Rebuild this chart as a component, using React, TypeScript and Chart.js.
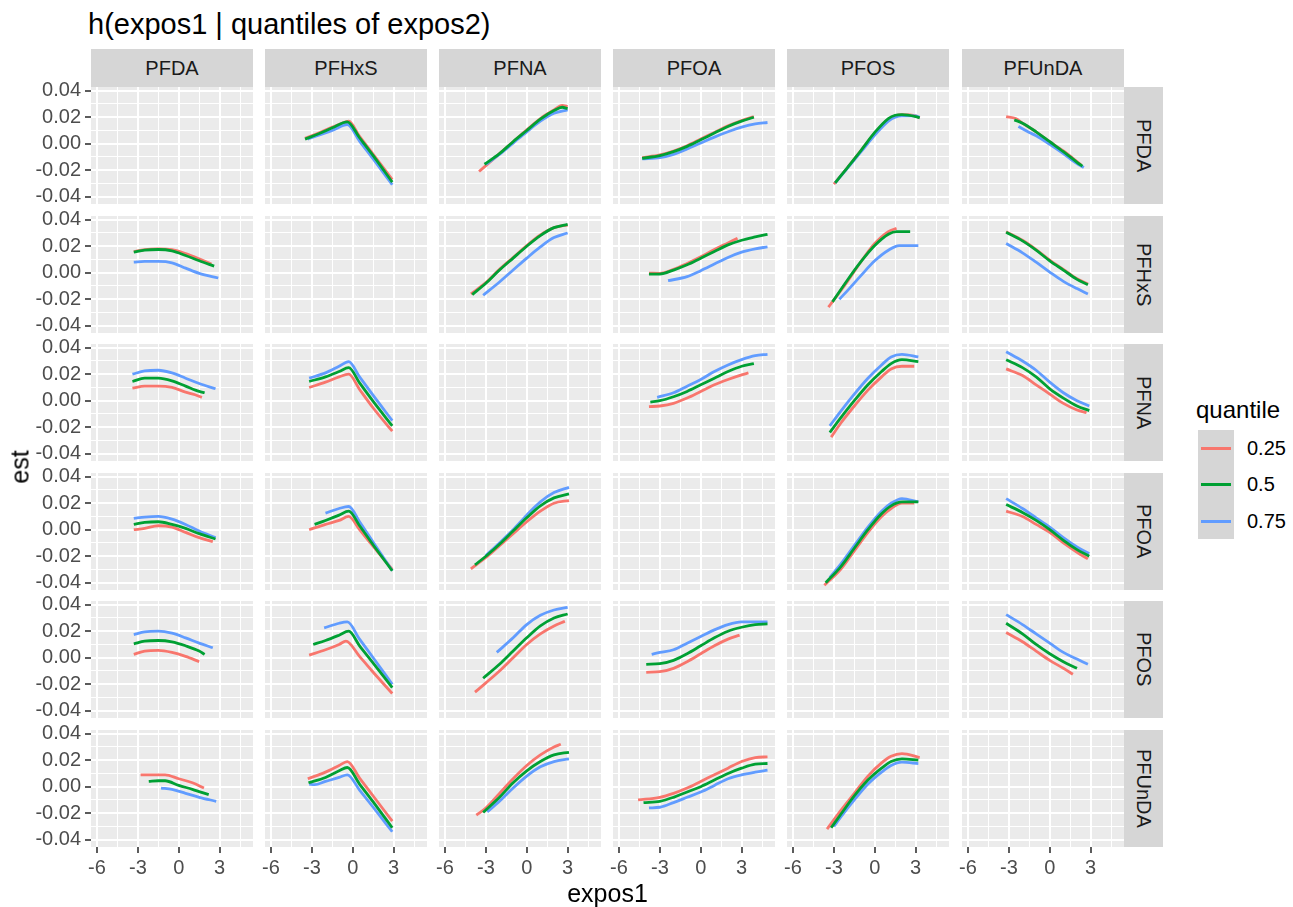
import React, { useEffect, useRef } from 'react';
import { Chart, registerables } from 'chart.js';

Chart.register(...registerables);

// ---------- categories, labels ----------
const exposures = ['PFDA', 'PFHxS', 'PFNA', 'PFOA', 'PFOS', 'PFUnDA'];
const quantileLabels = ['0.25', '0.5', '0.75'];
const quantileColors = ['#F8766D', '#00A033', '#619CFF'];
const xGridBreaks = [-6, -4.5, -3, -1.5, 0, 1.5, 3, 4.5];
const xMajorTicks = [-6, -3, 0, 3];
const yGridBreaks = [-0.04, -0.03, -0.02, -0.01, 0, 0.01, 0.02, 0.03, 0.04];
const yMajorTicks = [-0.04, -0.02, 0, 0.02, 0.04];
const xLimits = [-6.44, 5.45];
const yLimits = [-0.0455, 0.0428];
const titleText = 'h(expos1 | quantiles of expos2)';
const xTitle = 'expos1';
const yTitle = 'est';
const legendTitle = 'quantile';

// ---------- series values: row (expos2) _ column (expos1) _ quantile ----------
// row PFDA
const PFDA_PFHxS_25 = [[-3.5, 0.004], [-2.5, 0.008], [-1.5, 0.0125], [-0.5, 0.0165], [-0.3, 0.017], [0.5, 0.0055], [1.5, -0.008], [2.9, -0.027]];
const PFDA_PFHxS_50 = [[-3.5, 0.0035], [-2.5, 0.0075], [-1.5, 0.012], [-0.4, 0.0165], [0.5, 0.0045], [1.5, -0.009], [2.9, -0.029]];
const PFDA_PFHxS_75 = [[-3.3, 0.0035], [-2.5, 0.0065], [-1.5, 0.01], [-0.4, 0.0145], [0.5, 0.002], [1.5, -0.0115], [2.9, -0.031]];
const PFDA_PFNA_25 = [[-3.5, -0.021], [-3, -0.0165], [-2, -0.0075], [-1, 0.0015], [0, 0.0105], [1, 0.019], [2, 0.0255], [2.6, 0.029], [3, 0.028]];
const PFDA_PFNA_50 = [[-3.1, -0.0155], [-2, -0.0075], [-1, 0.0015], [0, 0.01], [1, 0.0185], [2, 0.025], [2.6, 0.0275], [3, 0.0265]];
const PFDA_PFNA_75 = [[-3, -0.0155], [-2, -0.008], [-1, 0.0005], [0, 0.009], [1, 0.017], [2, 0.023], [3, 0.0255]];
const PFDA_PFOA_25 = [[-4.3, -0.0105], [-3, -0.0085], [-2, -0.0055], [-1, -0.0015], [0, 0.0035], [1, 0.0085], [2, 0.0135], [3, 0.0175], [3.9, 0.0205]];
const PFDA_PFOA_50 = [[-4.3, -0.011], [-3, -0.009], [-2, -0.006], [-1, -0.002], [0, 0.003], [1, 0.008], [2, 0.013], [3, 0.017], [3.9, 0.02]];
const PFDA_PFOA_75 = [[-4.3, -0.0115], [-3, -0.0105], [-2, -0.008], [-1, -0.004], [0, 0.0005], [1, 0.005], [2, 0.009], [3, 0.0125], [4, 0.015], [4.9, 0.016]];
const PFDA_PFOS_25 = [[-3, -0.0305], [-2, -0.018], [-1, -0.005], [0, 0.008], [1, 0.0185], [1.5, 0.021], [2, 0.022], [3, 0.021], [3.3, 0.0195]];
const PFDA_PFOS_50 = [[-2.9, -0.0295], [-2, -0.018], [-1, -0.005], [0, 0.0085], [1, 0.019], [1.5, 0.0215], [2, 0.022], [3, 0.0205], [3.3, 0.0195]];
const PFDA_PFOS_75 = [[-2.9, -0.0295], [-2, -0.0185], [-1, -0.006], [0, 0.0065], [1, 0.017], [1.5, 0.02], [2, 0.021], [3, 0.021], [3.3, 0.02]];
const PFDA_PFUnDA_25 = [[-3.2, 0.0205], [-2.5, 0.019], [-2, 0.0155], [-1, 0.009], [0, 0.0015], [1, -0.0055], [2, -0.0135], [2.3, -0.016]];
const PFDA_PFUnDA_50 = [[-2.6, 0.018], [-2, 0.0155], [-1, 0.009], [0, 0.0015], [1, -0.006], [2, -0.014], [2.4, -0.017]];
const PFDA_PFUnDA_75 = [[-2.3, 0.013], [-1.5, 0.0085], [-1, 0.006], [0, -0.0005], [1, -0.0075], [2, -0.015], [2.5, -0.018]];
// row PFHxS
const PFHxS_PFDA_25 = [[-3.3, 0.016], [-2.5, 0.0175], [-1.5, 0.018], [-0.5, 0.0175], [0.5, 0.0145], [1.5, 0.0105], [2.4, 0.0065]];
const PFHxS_PFDA_50 = [[-3.3, 0.0155], [-2.5, 0.017], [-1.5, 0.0175], [-0.5, 0.0165], [0.5, 0.013], [1.5, 0.009], [2.6, 0.005]];
const PFHxS_PFDA_75 = [[-3.3, 0.008], [-2.5, 0.0085], [-1.5, 0.0085], [-0.5, 0.0075], [0.5, 0.0035], [1.5, -0.0005], [2.9, -0.004]];
const PFHxS_PFNA_25 = [[-4.1, -0.016], [-3, -0.0075], [-2, 0.0025], [-1, 0.0115], [0, 0.0205], [1, 0.0285], [2, 0.034], [3, 0.036]];
const PFHxS_PFNA_50 = [[-4.0, -0.0165], [-3, -0.008], [-2, 0.002], [-1, 0.011], [0, 0.02], [1, 0.028], [2, 0.034], [3, 0.0365]];
const PFHxS_PFNA_75 = [[-3.2, -0.017], [-2, -0.007], [-1, 0.002], [0, 0.011], [1, 0.0195], [2, 0.0265], [3, 0.03]];
const PFHxS_PFOA_25 = [[-3.8, -0.0003], [-3, -0.0005], [-2, 0.0025], [-1, 0.007], [0, 0.012], [1, 0.0175], [2, 0.0225], [2.7, 0.026]];
const PFHxS_PFOA_50 = [[-3.8, -0.001], [-3, -0.001], [-2, 0.002], [-1, 0.006], [0, 0.011], [1, 0.016], [2, 0.021], [3, 0.0245], [4, 0.027], [4.9, 0.029]];
const PFHxS_PFOA_75 = [[-2.4, -0.006], [-1, -0.003], [0, 0.0015], [1, 0.0065], [2, 0.0115], [3, 0.0155], [4, 0.018], [4.9, 0.0195]];
const PFHxS_PFOS_25 = [[-3.4, -0.026], [-3, -0.0205], [-2, -0.0065], [-1, 0.0085], [0, 0.022], [1, 0.031], [1.6, 0.0335]];
const PFHxS_PFOS_50 = [[-3.1, -0.022], [-2, -0.0055], [-1, 0.0085], [0, 0.0205], [1, 0.029], [1.6, 0.031], [2.6, 0.031]];
const PFHxS_PFOS_75 = [[-2.6, -0.02], [-2, -0.0135], [-1, -0.002], [0, 0.009], [1, 0.017], [1.8, 0.0205], [3.2, 0.0205]];
const PFHxS_PFUnDA_25 = [[-3.2, 0.031], [-2, 0.0245], [-1, 0.0175], [0, 0.0095], [1, 0.0025], [2, -0.0045], [2.8, -0.0085]];
const PFHxS_PFUnDA_50 = [[-3.2, 0.0305], [-2, 0.024], [-1, 0.017], [0, 0.009], [1, 0.002], [2, -0.005], [2.8, -0.009]];
const PFHxS_PFUnDA_75 = [[-3.2, 0.022], [-2, 0.015], [-1, 0.008], [0, 0.0005], [1, -0.0065], [2, -0.012], [2.8, -0.016]];
// row PFNA
const PFNA_PFDA_25 = [[-3.4, 0.0095], [-2.5, 0.011], [-1.5, 0.011], [-0.5, 0.01], [0.5, 0.0065], [1.2, 0.0045], [1.7, 0.0025]];
const PFNA_PFDA_50 = [[-3.4, 0.0145], [-2.5, 0.017], [-1.5, 0.017], [-0.5, 0.015], [0.5, 0.011], [1.5, 0.007], [1.9, 0.006]];
const PFNA_PFDA_75 = [[-3.4, 0.02], [-2.5, 0.0225], [-1.5, 0.023], [-0.5, 0.021], [0.5, 0.017], [1.5, 0.013], [2.7, 0.009]];
const PFNA_PFHxS_25 = [[-3.2, 0.01], [-2, 0.014], [-1, 0.018], [-0.3, 0.02], [0.5, 0.0085], [1.5, -0.0055], [2.9, -0.023]];
const PFNA_PFHxS_50 = [[-3.2, 0.0145], [-2, 0.018], [-1, 0.022], [-0.3, 0.025], [0.5, 0.0135], [1.5, -0.0005], [2.9, -0.019]];
const PFNA_PFHxS_75 = [[-3.2, 0.017], [-2, 0.021], [-1, 0.026], [-0.3, 0.0295], [0.5, 0.018], [1.5, 0.004], [2.9, -0.015]];
const PFNA_PFOA_25 = [[-3.8, -0.0045], [-3, -0.004], [-2, -0.002], [-1, 0.002], [0, 0.007], [1, 0.012], [2, 0.016], [3, 0.0195], [3.5, 0.021]];
const PFNA_PFOA_50 = [[-3.7, -0.001], [-3, 0.0], [-2, 0.003], [-1, 0.007], [0, 0.012], [1, 0.017], [2, 0.022], [3, 0.026], [3.9, 0.028]];
const PFNA_PFOA_75 = [[-3.2, 0.0025], [-2, 0.006], [-1, 0.011], [0, 0.016], [1, 0.022], [2, 0.027], [3, 0.031], [4, 0.034], [4.9, 0.035]];
const PFNA_PFOS_25 = [[-3.2, -0.0275], [-2.5, -0.017], [-1.5, -0.004], [-0.5, 0.008], [0.5, 0.018], [1.2, 0.024], [2, 0.026], [2.9, 0.026]];
const PFNA_PFOS_50 = [[-3.3, -0.024], [-2.5, -0.013], [-1.5, 0.0], [-0.5, 0.012], [0.5, 0.022], [1.2, 0.028], [2, 0.031], [3.2, 0.0295]];
const PFNA_PFOS_75 = [[-3.3, -0.019], [-2.5, -0.008], [-1.5, 0.005], [-0.5, 0.017], [0.5, 0.027], [1.2, 0.033], [2, 0.035], [3.2, 0.033]];
const PFNA_PFUnDA_25 = [[-3.2, 0.024], [-2, 0.019], [-1, 0.012], [0, 0.005], [1, -0.002], [2, -0.007], [2.7, -0.009]];
const PFNA_PFUnDA_50 = [[-3.2, 0.031], [-2, 0.025], [-1, 0.018], [0, 0.009], [1, 0.002], [2, -0.004], [2.9, -0.0075]];
const PFNA_PFUnDA_75 = [[-3.2, 0.037], [-2, 0.03], [-1, 0.023], [0, 0.014], [1, 0.006], [2, 0.0], [2.9, -0.004]];
// row PFOA
const PFOA_PFDA_25 = [[-3.3, 0.0], [-2.5, 0.001], [-1.5, 0.003], [-0.5, 0.002], [0.5, -0.002], [1.5, -0.006], [2.5, -0.009]];
const PFOA_PFDA_50 = [[-3.3, 0.004], [-2.5, 0.0055], [-1.5, 0.006], [-0.5, 0.004], [0.5, 0.001], [1.5, -0.003], [2.7, -0.007]];
const PFOA_PFDA_75 = [[-3.3, 0.0085], [-2.5, 0.0095], [-1.5, 0.01], [-0.5, 0.008], [0.5, 0.004], [1.5, -0.001], [2.7, -0.006]];
const PFOA_PFHxS_25 = [[-3.2, 0.0], [-2, 0.004], [-1, 0.007], [-0.3, 0.01], [0.5, 0.0], [1.5, -0.0125], [2.9, -0.03]];
const PFOA_PFHxS_50 = [[-2.8, 0.004], [-2, 0.007], [-1, 0.011], [-0.3, 0.014], [0.5, 0.003], [1.5, -0.0115], [2.9, -0.031]];
const PFOA_PFHxS_75 = [[-2, 0.0125], [-1, 0.016], [-0.3, 0.0175], [0.5, 0.006], [1.5, -0.0095], [2.9, -0.031]];
const PFOA_PFNA_25 = [[-4.1, -0.0295], [-3, -0.021], [-2, -0.012], [-1, -0.003], [0, 0.006], [1, 0.014], [2, 0.02], [3.1, 0.022]];
const PFOA_PFNA_50 = [[-3.8, -0.0265], [-3, -0.02], [-2, -0.011], [-1, -0.001], [0, 0.009], [1, 0.018], [2, 0.024], [3.1, 0.027]];
const PFOA_PFNA_75 = [[-3, -0.0195], [-2, -0.01], [-1, 0.0], [0, 0.011], [1, 0.021], [2, 0.028], [3.1, 0.032]];
const PFOA_PFOS_25 = [[-3.7, -0.042], [-2.5, -0.03], [-1.5, -0.016], [-0.5, -0.002], [0.5, 0.01], [1.2, 0.016], [2, 0.02], [2.9, 0.02]];
const PFOA_PFOS_50 = [[-3.6, -0.04], [-2.5, -0.028], [-1.5, -0.014], [-0.5, 0.0], [0.5, 0.012], [1.2, 0.018], [2, 0.021], [3.2, 0.021]];
const PFOA_PFOS_75 = [[-3.3, -0.036], [-2.5, -0.026], [-1.5, -0.012], [-0.5, 0.002], [0.5, 0.014], [1.2, 0.02], [2, 0.0235], [3.2, 0.021]];
const PFOA_PFUnDA_25 = [[-3.2, 0.014], [-2, 0.01], [-1, 0.004], [0, -0.002], [1, -0.01], [2, -0.017], [2.8, -0.022]];
const PFOA_PFUnDA_50 = [[-3.2, 0.019], [-2, 0.013], [-1, 0.007], [0, 0.0], [1, -0.008], [2, -0.015], [2.9, -0.02]];
const PFOA_PFUnDA_75 = [[-3.2, 0.0235], [-2, 0.016], [-1, 0.009], [0, 0.002], [1, -0.006], [2, -0.013], [2.9, -0.018]];
// row PFOS
const PFOS_PFDA_25 = [[-3.3, 0.0025], [-2.5, 0.005], [-1.5, 0.0055], [-0.5, 0.004], [0.5, 0.001], [1.5, -0.003]];
const PFOS_PFDA_50 = [[-3.3, 0.0105], [-2.5, 0.0125], [-1.5, 0.013], [-0.5, 0.012], [0.5, 0.009], [1.5, 0.005], [1.9, 0.0025]];
const PFOS_PFDA_75 = [[-3.3, 0.0175], [-2.5, 0.0195], [-1.5, 0.02], [-0.5, 0.0185], [0.5, 0.015], [1.5, 0.011], [2.5, 0.0075]];
const PFOS_PFHxS_25 = [[-3.2, 0.002], [-2, 0.006], [-1, 0.01], [-0.5, 0.0125], [0.5, 0.001], [1.5, -0.011], [2.9, -0.027]];
const PFOS_PFHxS_50 = [[-2.9, 0.01], [-2, 0.013], [-1, 0.017], [-0.3, 0.02], [0.5, 0.009], [1.5, -0.004], [2.9, -0.0225]];
const PFOS_PFHxS_75 = [[-2.1, 0.0225], [-1, 0.026], [-0.4, 0.027], [0.5, 0.014], [1.5, 0.0], [2.9, -0.02]];
const PFOS_PFNA_25 = [[-3.8, -0.026], [-3, -0.019], [-2, -0.01], [-1, 0.0], [0, 0.01], [1, 0.018], [2, 0.024], [2.8, 0.0275]];
const PFOS_PFNA_50 = [[-3.2, -0.0155], [-2, -0.005], [-1, 0.005], [0, 0.015], [1, 0.024], [2, 0.03], [3, 0.033]];
const PFOS_PFNA_75 = [[-2.2, 0.004], [-1, 0.015], [0, 0.025], [1, 0.032], [2, 0.036], [3, 0.038]];
const PFOS_PFOA_25 = [[-4, -0.011], [-3, -0.0105], [-2, -0.008], [-1, -0.003], [0, 0.003], [1, 0.009], [2, 0.014], [2.85, 0.017]];
const PFOS_PFOA_50 = [[-4, -0.005], [-3, -0.0045], [-2, -0.002], [-1, 0.003], [0, 0.009], [1, 0.015], [2, 0.02], [3, 0.023], [4, 0.025], [4.9, 0.0255]];
const PFOS_PFOA_75 = [[-3.6, 0.0025], [-3, 0.004], [-2, 0.006], [-1, 0.011], [0, 0.016], [1, 0.021], [2, 0.025], [3, 0.027], [4, 0.027], [4.9, 0.027]];
const PFOS_PFUnDA_25 = [[-3.2, 0.019], [-2, 0.012], [-1, 0.005], [0, -0.002], [1, -0.008], [1.7, -0.0125]];
const PFOS_PFUnDA_50 = [[-3.2, 0.026], [-2, 0.018], [-1, 0.01], [0, 0.003], [1, -0.003], [2, -0.008]];
const PFOS_PFUnDA_75 = [[-3.2, 0.0325], [-2, 0.025], [-1, 0.018], [0, 0.011], [1, 0.004], [2, -0.001], [2.8, -0.005]];
// row PFUnDA
const PFUnDA_PFDA_25 = [[-2.8, 0.009], [-2, 0.009], [-1, 0.009], [0, 0.006], [1, 0.003], [1.85, -0.001]];
const PFUnDA_PFDA_50 = [[-2.2, 0.004], [-1.5, 0.0045], [-1, 0.0045], [0, 0.001], [1, -0.002], [2.2, -0.006]];
const PFUnDA_PFDA_75 = [[-1.3, -0.001], [-0.5, -0.002], [0.5, -0.005], [1.5, -0.008], [2.75, -0.011]];
const PFUnDA_PFHxS_25 = [[-3.3, 0.006], [-2, 0.011], [-1, 0.016], [-0.4, 0.019], [0.5, 0.0065], [1.5, -0.007], [2.9, -0.026]];
const PFUnDA_PFHxS_50 = [[-3.25, 0.003], [-2, 0.007], [-1, 0.012], [-0.4, 0.0145], [0.5, 0.002], [1.5, -0.0115], [2.9, -0.031]];
const PFUnDA_PFHxS_75 = [[-3.2, 0.002], [-2.8, 0.0015], [-2, 0.004], [-1, 0.007], [-0.4, 0.009], [0.5, -0.0025], [1.5, -0.0155], [2.9, -0.034]];
const PFUnDA_PFNA_25 = [[-3.7, -0.0215], [-3, -0.016], [-2, -0.005], [-1, 0.006], [0, 0.016], [1, 0.024], [2, 0.03], [2.5, 0.032]];
const PFUnDA_PFNA_50 = [[-3.2, -0.0195], [-2, -0.008], [-1, 0.003], [0, 0.012], [1, 0.019], [2, 0.024], [3.1, 0.026]];
const PFUnDA_PFNA_75 = [[-2.9, -0.019], [-2, -0.011], [-1, -0.001], [0, 0.008], [1, 0.015], [2, 0.019], [3.1, 0.021]];
const PFUnDA_PFOA_25 = [[-4.6, -0.01], [-3, -0.008], [-2, -0.005], [-1, -0.001], [0, 0.004], [1, 0.009], [2, 0.014], [3, 0.019], [4, 0.022], [4.9, 0.0225]];
const PFUnDA_PFOA_50 = [[-4.2, -0.012], [-3, -0.011], [-2, -0.008], [-1, -0.004], [0, 0.0], [1, 0.005], [2, 0.01], [3, 0.014], [4, 0.017], [4.9, 0.0175]];
const PFUnDA_PFOA_75 = [[-3.8, -0.016], [-3, -0.0155], [-2, -0.012], [-1, -0.008], [0, -0.004], [1, 0.001], [2, 0.006], [3, 0.009], [4, 0.011], [4.9, 0.0125]];
const PFUnDA_PFOS_25 = [[-3.5, -0.032], [-2.5, -0.018], [-1.5, -0.005], [-0.5, 0.008], [0.5, 0.018], [1.2, 0.023], [2, 0.025], [3.3, 0.022]];
const PFUnDA_PFOS_50 = [[-3.2, -0.031], [-2.5, -0.021], [-1.5, -0.007], [-0.5, 0.005], [0.5, 0.014], [1.2, 0.019], [2, 0.021], [3.2, 0.02]];
const PFUnDA_PFOS_75 = [[-3.0, -0.03], [-2.5, -0.023], [-1.5, -0.01], [-0.5, 0.002], [0.5, 0.011], [1.2, 0.016], [2, 0.0185], [3.2, 0.0175]];

// lookup table: "row|col" -> [q0.25, q0.5, q0.75]
const panelSeries: Record<string, number[][][]> = {
  'PFDA|PFHxS': [PFDA_PFHxS_25, PFDA_PFHxS_50, PFDA_PFHxS_75],
  'PFDA|PFNA': [PFDA_PFNA_25, PFDA_PFNA_50, PFDA_PFNA_75],
  'PFDA|PFOA': [PFDA_PFOA_25, PFDA_PFOA_50, PFDA_PFOA_75],
  'PFDA|PFOS': [PFDA_PFOS_25, PFDA_PFOS_50, PFDA_PFOS_75],
  'PFDA|PFUnDA': [PFDA_PFUnDA_25, PFDA_PFUnDA_50, PFDA_PFUnDA_75],
  'PFHxS|PFDA': [PFHxS_PFDA_25, PFHxS_PFDA_50, PFHxS_PFDA_75],
  'PFHxS|PFNA': [PFHxS_PFNA_25, PFHxS_PFNA_50, PFHxS_PFNA_75],
  'PFHxS|PFOA': [PFHxS_PFOA_25, PFHxS_PFOA_50, PFHxS_PFOA_75],
  'PFHxS|PFOS': [PFHxS_PFOS_25, PFHxS_PFOS_50, PFHxS_PFOS_75],
  'PFHxS|PFUnDA': [PFHxS_PFUnDA_25, PFHxS_PFUnDA_50, PFHxS_PFUnDA_75],
  'PFNA|PFDA': [PFNA_PFDA_25, PFNA_PFDA_50, PFNA_PFDA_75],
  'PFNA|PFHxS': [PFNA_PFHxS_25, PFNA_PFHxS_50, PFNA_PFHxS_75],
  'PFNA|PFOA': [PFNA_PFOA_25, PFNA_PFOA_50, PFNA_PFOA_75],
  'PFNA|PFOS': [PFNA_PFOS_25, PFNA_PFOS_50, PFNA_PFOS_75],
  'PFNA|PFUnDA': [PFNA_PFUnDA_25, PFNA_PFUnDA_50, PFNA_PFUnDA_75],
  'PFOA|PFDA': [PFOA_PFDA_25, PFOA_PFDA_50, PFOA_PFDA_75],
  'PFOA|PFHxS': [PFOA_PFHxS_25, PFOA_PFHxS_50, PFOA_PFHxS_75],
  'PFOA|PFNA': [PFOA_PFNA_25, PFOA_PFNA_50, PFOA_PFNA_75],
  'PFOA|PFOS': [PFOA_PFOS_25, PFOA_PFOS_50, PFOA_PFOS_75],
  'PFOA|PFUnDA': [PFOA_PFUnDA_25, PFOA_PFUnDA_50, PFOA_PFUnDA_75],
  'PFOS|PFDA': [PFOS_PFDA_25, PFOS_PFDA_50, PFOS_PFDA_75],
  'PFOS|PFHxS': [PFOS_PFHxS_25, PFOS_PFHxS_50, PFOS_PFHxS_75],
  'PFOS|PFNA': [PFOS_PFNA_25, PFOS_PFNA_50, PFOS_PFNA_75],
  'PFOS|PFOA': [PFOS_PFOA_25, PFOS_PFOA_50, PFOS_PFOA_75],
  'PFOS|PFUnDA': [PFOS_PFUnDA_25, PFOS_PFUnDA_50, PFOS_PFUnDA_75],
  'PFUnDA|PFDA': [PFUnDA_PFDA_25, PFUnDA_PFDA_50, PFUnDA_PFDA_75],
  'PFUnDA|PFHxS': [PFUnDA_PFHxS_25, PFUnDA_PFHxS_50, PFUnDA_PFHxS_75],
  'PFUnDA|PFNA': [PFUnDA_PFNA_25, PFUnDA_PFNA_50, PFUnDA_PFNA_75],
  'PFUnDA|PFOA': [PFUnDA_PFOA_25, PFUnDA_PFOA_50, PFUnDA_PFOA_75],
  'PFUnDA|PFOS': [PFUnDA_PFOS_25, PFUnDA_PFOS_50, PFUnDA_PFOS_75],
};

// ---------- layout & style ----------
const FONT = '"Liberation Sans", Arial, Helvetica, sans-serif';
const PANEL_BG = '#EBEBEB';
const STRIP_BG = '#D6D6D6';
const TICK_FONT = 20;
const M = 14;
const YW = 70;
const XH = 40;
const PW = 162;
const PH = 117;
const LINE_W = 2.8;
const colLeft = (c: number) => Math.round(91 + c * 174.1);
const rowTop = (r: number) => Math.round(87.3 + r * 128.5);

Chart.defaults.font.family = FONT;

const isMajorX = (v: number) => xMajorTicks.some((t) => Math.abs(t - v) < 1e-9);
const isMajorY = (v: number) => yMajorTicks.some((t) => Math.abs(t - v) < 1e-9);

const panelBgPlugin = {
  id: 'panelBg',
  beforeDraw(chart: any) {
    const { ctx, chartArea: a } = chart;
    ctx.save();
    ctx.fillStyle = PANEL_BG;
    ctx.fillRect(a.left, a.top, a.right - a.left, a.bottom - a.top);
    ctx.restore();
  },
};

function Panel({ r, c }: { r: number; c: number }) {
  const ref = useRef<HTMLCanvasElement>(null);
  const showY = c === 0;
  const showX = r === exposures.length - 1;
  const left = colLeft(c) - M - (showY ? YW : 0);
  const top = rowTop(r) - M;
  const w = PW + 2 * M + (showY ? YW : 0);
  const h = PH + 2 * M + (showX ? XH : 0);

  useEffect(() => {
    const series = panelSeries[`${exposures[r]}|${exposures[c]}`] || [];
    const drawOrder = [2, 0, 1];
    const chart = new Chart(ref.current as HTMLCanvasElement, {
      type: 'line',
      data: {
        datasets: series.map((pts, i) => ({
          label: quantileLabels[i],
          data: pts.map(([x, y]) => ({ x, y })),
          borderColor: quantileColors[i],
          borderWidth: LINE_W,
          pointRadius: 0,
          fill: false,
          cubicInterpolationMode: 'monotone',
          order: drawOrder[i],
        })),
      },
      options: {
        animation: false,
        responsive: false,
        events: [],
        layout: { autoPadding: false, padding: { left: M, right: M, top: M, bottom: M } },
        plugins: { legend: { display: false }, tooltip: { enabled: false } },
        scales: {
          x: {
            type: 'linear',
            position: 'bottom',
            min: xLimits[0],
            max: xLimits[1],
            afterBuildTicks: (axis: any) => {
              axis.ticks = xGridBreaks.map((v) => ({ value: v }));
            },
            afterFit: (axis: any) => {
              axis.height = showX ? XH : 0;
              axis.paddingLeft = 0;
              axis.paddingRight = 0;
              axis.paddingTop = 0;
              axis.paddingBottom = 0;
            },
            ticks: {
              display: showX,
              autoSkip: false,
              maxRotation: 0,
              minRotation: 0,
              padding: 3,
              color: '#4D4D4D',
              font: { size: TICK_FONT, family: FONT },
              callback: (v: any) => (isMajorX(Number(v)) ? String(Math.round(Number(v))) : ''),
            },
            grid: {
              color: '#FFFFFF',
              lineWidth: (ctx: any) => (ctx.tick && isMajorX(ctx.tick.value) ? 2 : 1),
              drawTicks: showX,
              tickLength: 6,
              tickWidth: 1.6,
              tickColor: (ctx: any) => (ctx.tick && isMajorX(ctx.tick.value) ? '#333333' : 'rgba(0,0,0,0)'),
            },
            border: { display: false },
          },
          y: {
            type: 'linear',
            position: 'left',
            min: yLimits[0],
            max: yLimits[1],
            afterBuildTicks: (axis: any) => {
              axis.ticks = yGridBreaks.map((v) => ({ value: v }));
            },
            afterFit: (axis: any) => {
              axis.width = showY ? YW : 0;
              axis.paddingLeft = 0;
              axis.paddingRight = 0;
              axis.paddingTop = 0;
              axis.paddingBottom = 0;
            },
            ticks: {
              display: showY,
              autoSkip: false,
              padding: 4,
              color: '#4D4D4D',
              font: { size: TICK_FONT, family: FONT },
              callback: (v: any) => (isMajorY(Number(v)) ? Number(v).toFixed(2) : ''),
            },
            grid: {
              color: '#FFFFFF',
              lineWidth: (ctx: any) => (ctx.tick && isMajorY(ctx.tick.value) ? 2 : 1),
              drawTicks: showY,
              tickLength: 6,
              tickWidth: 1.6,
              tickColor: (ctx: any) => (ctx.tick && isMajorY(ctx.tick.value) ? '#333333' : 'rgba(0,0,0,0)'),
            },
            border: { display: false },
          },
        },
      } as any,
      plugins: [panelBgPlugin],
    });
    return () => chart.destroy();
  }, []);

  return (
    <canvas
      ref={ref}
      width={w}
      height={h}
      style={{ position: 'absolute', left, top, width: w, height: h, display: 'block' }}
    />
  );
}

export default function App() {
  const panels: JSX.Element[] = [];
  exposures.forEach((_, r) =>
    exposures.forEach((__, c) => panels.push(<Panel key={`${r}-${c}`} r={r} c={c} />))
  );
  const gridLeft = colLeft(0);
  const gridRight = colLeft(exposures.length - 1) + PW;
  const gridTop = rowTop(0);
  const gridBottom = rowTop(exposures.length - 1) + PH;
  return (
    <div
      style={{
        position: 'absolute',
        left: 0,
        top: 0,
        width: 1293,
        height: 907,
        background: '#FFFFFF',
        fontFamily: FONT,
        overflow: 'hidden',
      }}
    >
      <div style={{ position: 'absolute', left: 88, top: 10, fontSize: 29, lineHeight: '29px', color: '#000', whiteSpace: 'nowrap' }}>
        {titleText}
      </div>
      {exposures.map((name, c) => (
        <div
          key={'cs' + c}
          style={{
            position: 'absolute',
            left: colLeft(c),
            top: gridTop - 38,
            width: PW,
            height: 38,
            background: STRIP_BG,
            color: '#1A1A1A',
            fontSize: TICK_FONT,
            display: 'flex',
            alignItems: 'center',
            justifyContent: 'center',
          }}
        >
          {name}
        </div>
      ))}
      {exposures.map((name, r) => (
        <div
          key={'rs' + r}
          style={{
            position: 'absolute',
            left: gridRight,
            top: rowTop(r),
            width: 39,
            height: PH,
            background: STRIP_BG,
            color: '#1A1A1A',
            fontSize: TICK_FONT,
            display: 'flex',
            alignItems: 'center',
            justifyContent: 'center',
          }}
        >
          <span style={{ writingMode: 'vertical-rl', whiteSpace: 'nowrap' }}>{name}</span>
        </div>
      ))}
      {panels}
      <div
        style={{
          position: 'absolute',
          left: 20,
          top: (gridTop + gridBottom) / 2,
          transform: 'translate(-50%, -50%) rotate(-90deg)',
          fontSize: 25,
          color: '#000',
          whiteSpace: 'nowrap',
        }}
      >
        {yTitle}
      </div>
      <div
        style={{
          position: 'absolute',
          left: (gridLeft + gridRight) / 2,
          top: 893,
          transform: 'translate(-50%, -50%)',
          fontSize: 25,
          color: '#000',
          whiteSpace: 'nowrap',
        }}
      >
        {xTitle}
      </div>
      <div style={{ position: 'absolute', left: 1196, top: 396, fontSize: 24, lineHeight: '28px', color: '#000' }}>
        {legendTitle}
      </div>
      {quantileLabels.map((lab, i) => (
        <React.Fragment key={'lg' + i}>
          <div
            style={{
              position: 'absolute',
              left: 1198,
              top: 430 + i * 36.4,
              width: 36,
              height: 36.4,
              background: STRIP_BG,
            }}
          >
            <div
              style={{
                position: 'absolute',
                left: 3,
                top: 17,
                width: 30,
                height: LINE_W,
                background: quantileColors[i],
              }}
            />
          </div>
          <div
            style={{
              position: 'absolute',
              left: 1247,
              top: 430 + i * 36.4,
              height: 36.4,
              lineHeight: '36.4px',
              fontSize: TICK_FONT,
              color: '#000',
            }}
          >
            {lab}
          </div>
        </React.Fragment>
      ))}
    </div>
  );
}
